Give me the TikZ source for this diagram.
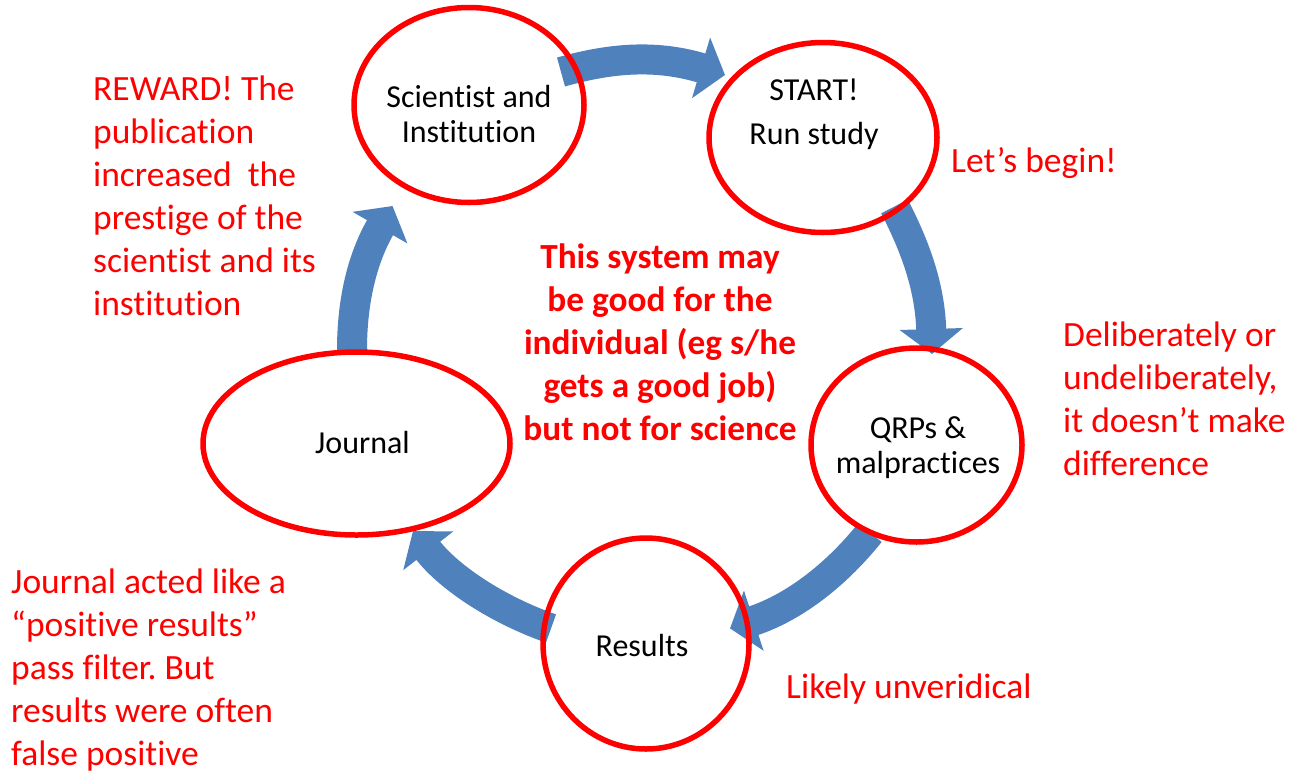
\documentclass[tikz,border=0pt]{standalone}
\usepackage{fontspec}
\setmainfont{Carlito}[Ligatures={NoCommon}]
\usetikzlibrary{shapes.geometric,arrows.meta}
\definecolor{ringred}{RGB}{255,0,0}
\definecolor{flowblue}{RGB}{79,129,189}
\frenchspacing
\begin{document}
\begin{tikzpicture}[x=1pt,y=-1pt,
  ring/.style={ellipse, draw=ringred, line width=5.5pt, inner sep=0pt},
  flow/.style={draw=flowblue, line width=30pt, line cap=butt,
    -{Triangle[width=62pt,length=25pt]}},
  note/.style={text=ringred, font=\fontsize{35.5}{43}\selectfont, inner sep=0pt, anchor=base west},
  claim/.style={text=ringred, font=\bfseries\fontsize{35.3}{43}\selectfont, inner sep=0pt, anchor=base},
  stage/.style={text=black, font=\fontsize{32}{35}\selectfont, inner sep=0pt, anchor=base}]
\useasboundingbox (0,0) rectangle (1292,774);

% curved block arrows of the cycle
\coordinate (a1s) at (561,72);    \coordinate (a1e) at (725,75);
\coordinate (a2s) at (894.5,206.5); \coordinate (a2e) at (932,354);
\coordinate (a3s) at (870,532.5); \coordinate (a3e) at (730,628.4);
\coordinate (a4s) at (551,628.5); \coordinate (a4e) at (413,531);
\coordinate (a5s) at (352,350);   \coordinate (a5e) at (392.5,206);
\draw[flow] (a1s) .. controls (614,57) and (658,55) .. (a1e);
\draw[flow] (a2s) .. controls (917.5,251) and (930,290) .. (a2e);
\draw[flow] (a3s) .. controls (839,571.5) and (796.5,606.7) .. (a3e);
\draw[flow] (a4s) .. controls (499,610.4) and (449.6,578.4) .. (a4e);
\draw[flow] (a5s) .. controls (352,300) and (362.5,258) .. (a5e);

% stages of the cycle
\node[ring, minimum width=230pt, minimum height=195pt] (sci) at (469,105) {};
\node[ring, minimum width=228pt, minimum height=190pt] (start) at (823,137.5) {};
\node[ring, minimum width=211pt, minimum height=194pt] (qrp) at (916.5,445) {};
\node[ring, minimum width=206pt, minimum height=211pt] (res) at (646,643.5) {};
\node[ring, minimum width=307pt, minimum height=183pt] (jou) at (356.5,443.5) {};

\node[stage] (scit) at (469,107) {\begin{tabular}[t]{@{}c@{}}Scientist and\\Institution\end{tabular}};
\node[stage, font=\fontsize{32}{44}\selectfont] (startt) at (814,100) {\begin{tabular}[t]{@{}c@{}}START!\\Run study\end{tabular}};
\node[stage] (qrpt) at (918,438) {\begin{tabular}[t]{@{}c@{}}QRPs \&\\malpractices\end{tabular}};
\node[stage] (rest) at (642,656) {Results};
\node[stage] (jout) at (362.5,453) {Journal};

% comments around the cycle
\node[note] (reward) at (93,100) {\begin{tabular}[t]{@{}l@{}}REWARD! The\\publication\\increased\ \ the\\prestige of the\\scientist and its\\institution\end{tabular}};
\node[note] (begin) at (951,172) {Let’s begin!};
\node[note] (delib) at (1063,346) {\begin{tabular}[t]{@{}l@{}}Deliberately or\\undeliberately,\\it doesn’t make\\difference\end{tabular}};
\node[note] (filter) at (11,593) {\begin{tabular}[t]{@{}l@{}}Journal acted like a\\“positive results”\\pass filter. But\\results were often\\false positive\end{tabular}};
\node[note] (likely) at (786,698) {Likely unveridical};
\node[claim] (system) at (660,268) {\begin{tabular}[t]{@{}c@{}}This system may\\be good for the\\individual (eg s/he\\gets a good job)\\but not for science\end{tabular}};
\end{tikzpicture}
\end{document}
